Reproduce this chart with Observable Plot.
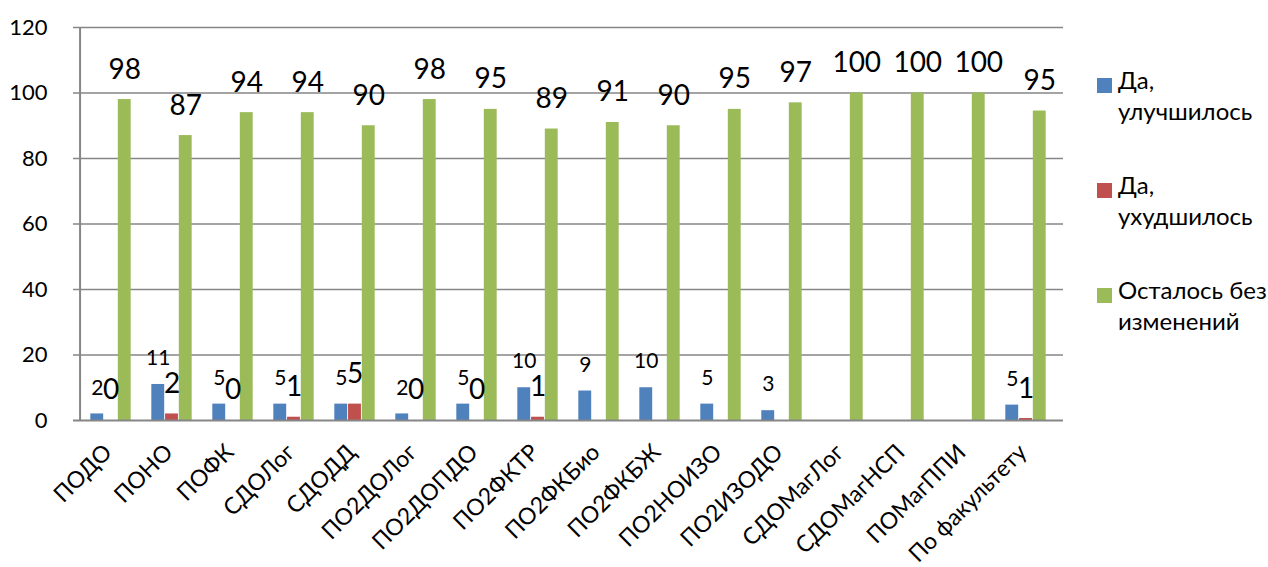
<!DOCTYPE html>
<html><head><meta charset="utf-8">
<script src="https://cdn.jsdelivr.net/npm/d3@7"></script>
<script src="https://cdn.jsdelivr.net/npm/@observablehq/plot@0.6"></script>
<style>
body{margin:0;background:#fff;font-family:Lato,"Open Sans",sans-serif;}
#wrap{position:relative;width:1268px;height:567px;overflow:hidden;}
.leg{position:absolute;left:1097px;font-size:24px;line-height:31px;color:#000;white-space:nowrap;}
.sw{position:absolute;left:0;top:6px;width:15px;height:15px;}
.lt{position:absolute;left:21px;top:-8px;}
</style></head><body>
<div id="wrap"></div>
<script>
const categories = ["ПОДО","ПОНО","ПОФК","СДОЛог","СДОДД","ПО2ДОЛог","ПО2ДОПДО","ПО2ФКТР","ПО2ФКБио","ПО2ФКБЖ","ПО2НОИЗО","ПО2ИЗОДО","СДОМагЛог","СДОМагНСП","ПОМагППИ","По факультету"];
const improved  = [2,11,5,5,5,2,5,10,9,10,5,3,null,null,null,4.7];
const worsened  = [0,2,0,1,5,0,0,1,null,null,null,null,null,null,null,0.6];
const unchanged = [98,87,94,94,90,98,95,89,91,90,95,97,100,100,100,94.5];
const seriesNames = ["Да,\nулучшилось","Да,\nухудшилось","Осталось без\nизменений"];
const colors = ["#4F81BD","#C0504D","#9BBB59"];
const yTicks = [0,20,40,60,80,100,120];

const rows = (vals) => categories.map((c,i)=>({cat:c, v:vals[i]})).filter(d=>d.v!=null);
const dImp = rows(improved), dWor = rows(worsened), dUnc = rows(unchanged);

const W=1268, H=567, mL=73, mR=205;
const band=(W-mL-mR)/categories.length, bw=13.75, c0=(band-bw)/2;
const fmt = d3.format(".0f");

const plot = Plot.plot({
  width:W, height:H, marginLeft:mL, marginRight:mR, marginTop:27, marginBottom:147,
  style:{fontFamily:"Lato, 'Open Sans', sans-serif", background:"#fff", color:"#000"},
  x:{domain:categories, padding:0, label:null},
  y:{domain:[0,120], label:null},
  marks:[
    Plot.ruleY(yTicks.filter(t=>t>0), {stroke:"#868686", strokeWidth:1.6}),
    Plot.barY(dImp, {x:"cat", y:"v", fill:colors[0], insetLeft:c0-bw, insetRight:c0+bw}),
    Plot.barY(dWor, {x:"cat", y:"v", fill:colors[1], insetLeft:c0, insetRight:c0}),
    Plot.barY(dUnc, {x:"cat", y:"v", fill:colors[2], insetLeft:c0+bw, insetRight:c0-bw}),
    Plot.ruleY([0], {stroke:"#868686", strokeWidth:2.2}),
    Plot.ruleX([categories[0]], {y1:0, y2:120, dx:-band/2, stroke:"#868686", strokeWidth:2}),
    Plot.text(dImp, {x:"cat", y:"v", text:d=>fmt(d.v), dx:-bw, dy:-26, fontSize:21, fill:"#000"}),
    Plot.text(dWor, {x:"cat", y:"v", text:d=>fmt(d.v), dx:0, dy:-30, fontSize:28, fill:"#000"}),
    Plot.text(dUnc, {x:"cat", y:"v", text:d=>fmt(d.v), dx:bw, dy:-30, fontSize:28, fill:"#000"}),
    Plot.axisY({ticks:yTicks, tickSize:0, tickPadding:26, fontSize:22, label:null}),
    Plot.axisX({tickSize:0, tickRotate:-45, fontSize:23, tickPadding:22, dx:-3, dy:6, label:null})
  ]
});
const wrap=document.getElementById("wrap");
wrap.appendChild(plot);
const tops=[72,177,282];
seriesNames.forEach((n,i)=>{
  const d=document.createElement("div"); d.className="leg"; d.style.top=tops[i]+"px";
  d.innerHTML=`<div class="sw" style="background:${colors[i]}"></div><div class="lt">${n.replace("\n","<br>")}</div>`;
  wrap.appendChild(d);
});
</script></body></html>
